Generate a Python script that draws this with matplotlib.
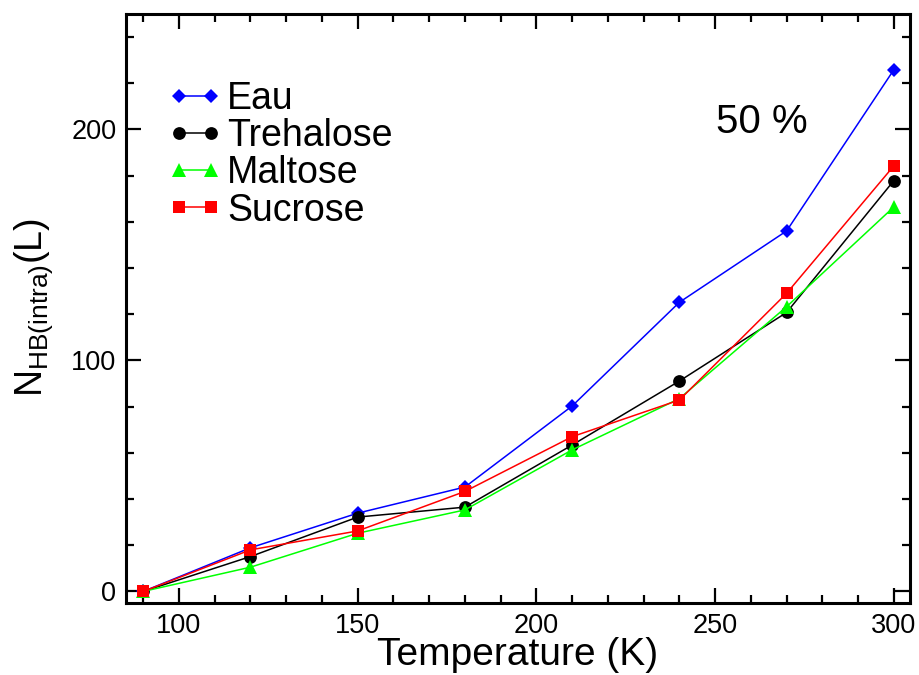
import matplotlib
matplotlib.use("Agg")
import matplotlib.pyplot as plt
from matplotlib.ticker import MultipleLocator

plt.rcParams['font.family'] = ['Liberation Sans', 'DejaVu Sans']

temperature = [90, 120, 150, 180, 210, 240, 270, 300]
eau = [0, 18.9, 33.9, 45.2, 80.3, 125.2, 156.1, 225.9]
trehalose = [0, 15.1, 32.2, 36.5, 63.4, 91.1, 120.8, 177.9]
maltose = [0, 10.5, 25.2, 35.3, 61.3, 83.5, 123.3, 166.5]
sucrose = [0, 18.0, 26.2, 43.3, 67.0, 82.9, 129.1, 184.3]

series_names = ["Eau", "Trehalose", "Maltose", "Sucrose"]
series_values = [eau, trehalose, maltose, sucrose]
colors = ["#0000ff", "#000000", "#00ff00", "#ff0000"]
markers = ["D", "o", "^", "s"]
msizes = [7.4, 9.2, 9.6, 8.0]

W, H = 920, 675
fig = plt.figure(figsize=(9.2, 6.75), dpi=100)
ax = fig.add_axes([126 / W, 1 - 603 / H, (910 - 126) / W, (603 - 14) / H])

for name, vals, c, m, ms in zip(series_names, series_values, colors, markers, msizes):
    ax.plot(temperature, vals, color=c, marker=m, markersize=ms, linewidth=1.1,
            markeredgewidth=0, label=name)

ax.set_xlim(85.2, 304.5)
ax.set_ylim(-5, 250)
ax.xaxis.set_major_locator(MultipleLocator(50))
ax.xaxis.set_minor_locator(MultipleLocator(10))
ax.yaxis.set_major_locator(MultipleLocator(100))
ax.yaxis.set_minor_locator(MultipleLocator(20))
ax.tick_params(which='both', direction='in', top=True, right=True, width=1.6)
ax.tick_params(which='major', length=11, labelsize=19.5, pad=7)
ax.tick_params(which='minor', length=6)
for sp in ax.spines.values():
    sp.set_linewidth(2.2)

ax.set_xlabel("Temperature (K)", fontsize=28, labelpad=-1)

fig.text(42 / W, 1 - 397 / H, r"N$_{\mathregular{HB(intra)}}$(L)", fontsize=27,
         rotation=90, rotation_mode='anchor', ha='left', va='baseline')

ax.text(0.7526, 0.798, "50 %", transform=ax.transAxes, fontsize=29,
        ha='left', va='baseline')

leg = ax.legend(loc='upper left', bbox_to_anchor=(0.0536, 0.886), frameon=False,
                fontsize=27, numpoints=2, handlelength=1.45, handletextpad=0.12,
                labelspacing=0.03, borderpad=0, borderaxespad=0)

fig.savefig("out.png", dpi=100)
